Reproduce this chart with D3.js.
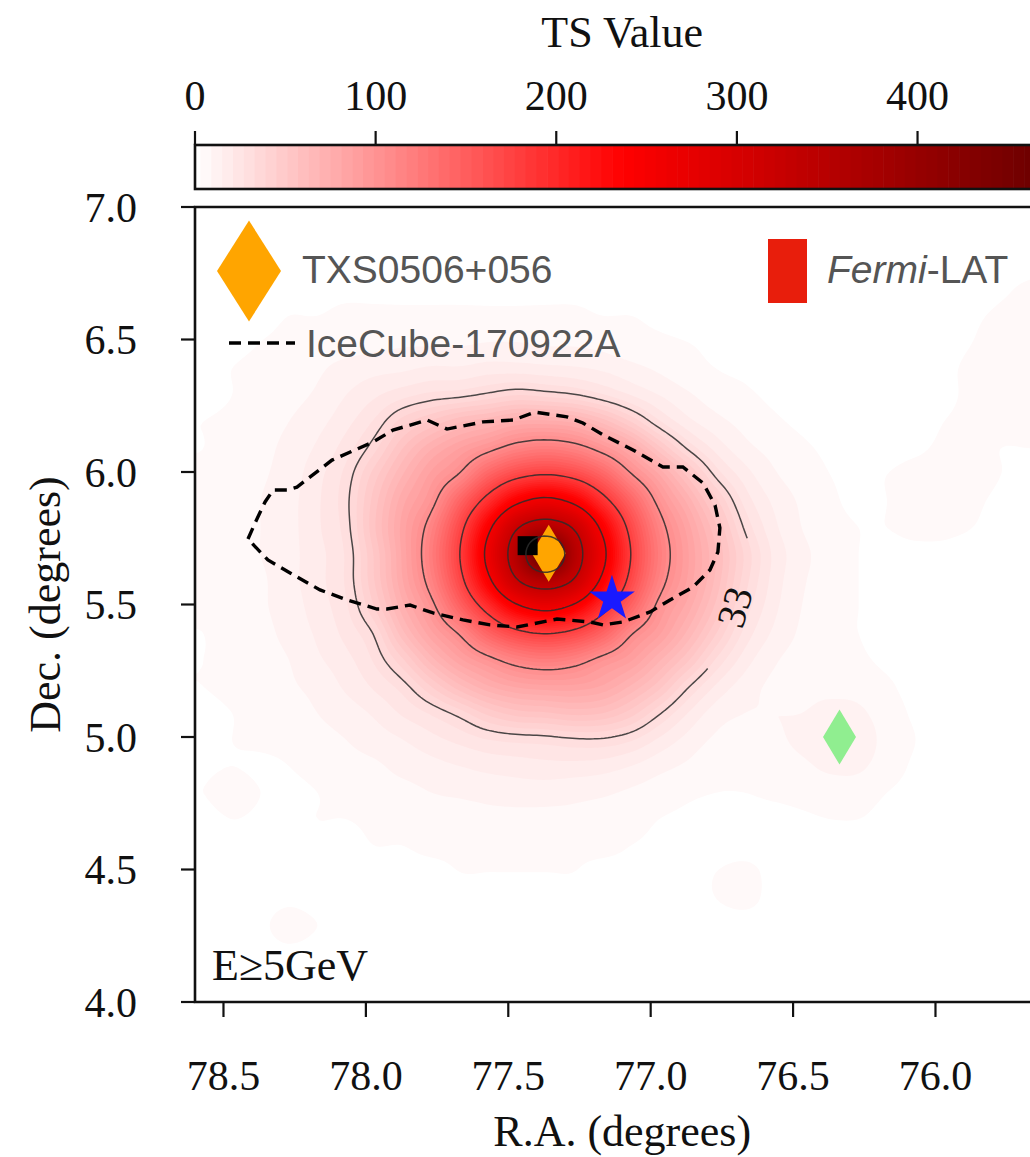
<!DOCTYPE html>
<html><head><meta charset="utf-8">
<script src="https://cdn.jsdelivr.net/npm/d3@7"></script>
<style>body{margin:0;background:#fff;overflow:hidden}</style>
</head><body>
<svg id="chart" width="1030" height="1157" xmlns="http://www.w3.org/2000/svg"></svg>
<script>
// ================= DATA =================
// TS map grid nodes (R.A. columns, Dec. rows, degrees)
const raNodes  = [78.57,78.47,78.37,78.27,78.17,78.07,77.97,77.87,77.77,77.67,77.57,77.47,77.37,77.27,77.17,77.07,76.97,76.87,76.77,76.67,76.57,76.47,76.37,76.27,76.17,76.07,75.97,75.87,75.77,75.67,75.57];
const decNodes = [6.99,6.89,6.79,6.69,6.59,6.49,6.39,6.29,6.19,6.09,5.99,5.89,5.79,5.69,5.59,5.49,5.39,5.29,5.19,5.09,4.99,4.89,4.79,4.69,4.59,4.49,4.39,4.29,4.19,4.09,3.99];
// TS values, one row per Dec node (top = 6.99), one column per R.A. node
const tsGrid = [
[0,0,0,0,0,0,0,0,0,0,0,0,0,0,0,0,0,0,0,0,0,0,0,0,0,0,0,0,0,0,0],
[0,0,0,0,0,0,1,1,1,1,1,1,1,0,0,0,0,0,0,0,0,0,0,0,0,0,0,0,0,0,0],
[0,0,0,1,1,1,1,1,1,1,1,1,1,1,1,1,0,0,0,0,0,0,0,0,0,0,0,0,0,1,2],
[0,1,1,2,2,2,2,2,2,2,2,2,2,2,2,1,1,1,0,0,0,0,0,0,0,0,0,0,2,4,4],
[1,2,2,3,3,4,4,4,4,4,4,4,4,4,3,3,2,1,1,1,0,0,0,0,0,0,0,2,4,5,5],
[1,2,3,4,6,6,7,8,8,8,9,9,8,8,7,5,4,3,2,1,1,0,0,0,0,0,1,3,5,6,6],
[2,3,4,5,8,11,13,14,16,16,18,18,17,16,14,11,8,5,3,2,1,1,1,0,0,1,2,4,5,6,6],
[2,3,5,7,10,15,20,25,29,31,35,39,37,34,28,21,15,10,6,4,2,1,1,1,0,1,2,4,5,5,5],
[3,4,6,9,13,19,28,42,52,62,68,76,77,73,61,45,28,17,11,7,4,2,1,1,0,1,3,4,4,4,4],
[3,5,7,11,16,24,37,57,74,87,100,115,121,115,98,78,53,32,19,11,7,4,2,1,1,2,4,4,3,3,3],
[4,5,8,12,19,29,48,69,89,108,144,170,180,170,144,108,81,55,31,18,10,6,3,2,3,5,6,5,3,2,2],
[4,6,9,13,20,31,54,79,100,144,194,244,265,244,194,144,100,73,47,25,14,8,4,2,3,5,6,4,2,1,1],
[4,6,9,13,20,30,56,84,115,170,244,322,357,322,244,170,115,84,58,32,17,9,5,3,3,4,4,3,1,0,0],
[4,6,9,13,19,28,52,83,121,180,265,357,473,357,265,180,121,88,63,38,20,11,6,3,2,2,2,1,0,0,0],
[4,6,8,13,19,28,51,81,115,170,244,322,357,322,244,170,115,86,61,36,19,10,6,3,2,1,1,0,0,0,0],
[4,5,8,12,18,26,45,73,100,144,194,244,265,244,194,144,100,78,55,31,17,9,5,3,2,1,1,0,0,0,0],
[3,5,7,11,16,23,34,61,85,108,144,170,180,170,144,108,88,67,45,25,14,8,5,3,2,1,1,0,0,0,0],
[3,4,6,9,14,19,28,44,66,85,100,115,121,115,100,88,70,52,32,18,10,7,6,4,2,1,0,0,0,0,0],
[3,4,5,8,11,16,22,30,45,61,74,82,85,85,80,68,53,34,20,12,8,8,8,7,4,1,0,0,0,0,0],
[2,3,4,6,9,12,16,22,28,36,47,54,56,59,57,48,34,21,12,9,9,9,10,10,6,2,0,0,0,0,0],
[2,3,4,5,7,9,12,15,19,23,27,29,30,32,32,28,20,13,8,7,8,10,11,12,7,3,0,0,0,0,0],
[2,3,2,3,5,7,8,11,13,15,17,18,19,19,18,15,11,8,5,5,6,8,10,10,6,2,0,0,0,0,0],
[3,6,3,2,3,5,6,7,9,10,11,12,12,11,10,8,6,4,3,3,4,5,6,6,3,1,0,0,0,0,0],
[1,3,2,2,3,3,4,5,6,6,7,7,7,7,6,5,3,2,1,1,1,2,3,3,1,0,0,0,0,0,0],
[1,1,1,1,2,2,3,3,4,4,4,5,5,4,4,3,2,1,0,0,0,0,0,0,0,0,0,0,0,0,0],
[1,1,1,1,1,2,2,2,2,3,3,3,3,3,2,2,1,1,3,5,1,0,0,0,0,0,0,0,0,0,0],
[0,1,1,2,1,1,1,1,2,2,2,2,2,2,1,1,1,1,3,5,1,0,0,0,0,0,0,0,0,0,0],
[0,1,2,5,3,1,1,1,1,1,1,1,1,1,1,0,0,0,0,0,0,0,0,0,0,0,0,0,0,0,0],
[0,0,1,2,1,0,0,0,0,0,0,0,0,0,0,0,0,0,0,0,0,0,0,0,0,0,0,0,0,0,0],
[0,0,0,0,0,0,0,0,0,0,0,0,0,0,0,0,0,0,0,0,0,0,0,0,0,0,0,0,0,0,0],
[0,0,0,0,0,0,0,0,0,0,0,0,0,0,0,0,0,0,0,0,0,0,0,0,0,0,0,0,0,0,0]
];
const tsMax = 473;                                   // colour bar top
const contourLevels = [33, 106, 180, 253, 326, 400]; // TS contour lines
const labelledLevel = "33";

// IceCube-170922A 90% region (dashed), vertices in degrees
const iceRA  = [78.414,78.389,78.354,78.326,78.277,78.242,78.119,77.975,77.905,77.785,77.715,77.589,77.483,77.406,77.294,77.238,77.167,77.062,76.957,76.887,76.816,76.774,76.757,76.764,76.792,76.851,76.932,77.002,77.097,77.167,77.213,77.329,77.469,77.564,77.659,77.764,77.845,77.926,77.961,78.066,78.161,78.266,78.344];
const iceDec = [5.747,5.808,5.887,5.932,5.932,5.943,6.045,6.113,6.158,6.196,6.162,6.189,6.196,6.226,6.208,6.185,6.140,6.083,6.019,6.019,5.958,5.875,5.789,5.698,5.630,5.566,5.517,5.472,5.434,5.423,5.434,5.445,5.415,5.423,5.442,5.468,5.498,5.483,5.483,5.517,5.555,5.619,5.668];

// point markers
const markerNames = ["TXS0506+056", "Fermi-LAT best fit", "star", "green source"];
const markerRA    = [77.358, 77.432, 77.136, 76.337];
const markerDec   = [5.693, 5.722, 5.521, 5.000];

// axes
const xTicks  = [78.5, 78.0, 77.5, 77.0, 76.5, 76.0];
const yTicks  = [4.0, 4.5, 5.0, 5.5, 6.0, 6.5, 7.0];
const cbTicks = [0, 100, 200, 300, 400];
const raRange  = [78.6, 75.6];
const decRange = [7.0, 4.0];

// ================= DRAWING =================
const serif = "'Liberation Serif','Times New Roman',serif";
const sans  = "'Liberation Sans',Arial,Helvetica,sans-serif";
const svg = d3.select("#chart");
const L = 195, T = 207, R = 1049.4, B = 1002;
const x = d3.scaleLinear().domain(raRange).range([L, R]);
const y = d3.scaleLinear().domain(decRange).range([T, B]);
const color = d3.scaleLinear().domain([0, tsMax / 2, tsMax]).range(["#ffffff", "#ff0000", "#680000"]).clamp(true);
const cbx = d3.scaleLinear().domain([0, tsMax]).range([L, R]);

// bicubic (Catmull-Rom) resampling of the TS grid
const nR = decNodes.length, nC = raNodes.length;
const dRA = raNodes[0] - raNodes[1], dDec = decNodes[0] - decNodes[1];
function cr(p0, p1, p2, p3, t) {
  return 0.5 * (2 * p1 + (-p0 + p2) * t + (2 * p0 - 5 * p1 + 4 * p2 - p3) * t * t + (-p0 + 3 * p1 - 3 * p2 + p3) * t * t * t);
}
function g(i, j) { return tsGrid[Math.max(0, Math.min(nR - 1, i))][Math.max(0, Math.min(nC - 1, j))]; }
function sample(ra, dec) {
  const u = (raNodes[0] - ra) / dRA, v = (decNodes[0] - dec) / dDec;
  const j = Math.floor(u), i = Math.floor(v), tu = u - j, tv = v - i;
  const r = [];
  for (let k = -1; k <= 2; k++) r.push(cr(g(i + k, j - 1), g(i + k, j), g(i + k, j + 1), g(i + k, j + 2), tu));
  return Math.max(0, cr(r[0], r[1], r[2], r[3], tv));
}
const N = 241;
const raAt = d3.scaleLinear().domain([0, N - 1]).range(raRange);
const decAt = d3.scaleLinear().domain([0, N - 1]).range(decRange);
const values = new Float64Array(N * N);
for (let r = 0; r < N; r++) for (let c = 0; c < N; c++) values[r * N + c] = sample(raAt(c), decAt(r));

const gx = d3.scaleLinear().domain([0.5, N - 0.5]).range([x(raRange[0]), x(raRange[1])]);
const gy = d3.scaleLinear().domain([0.5, N - 0.5]).range([y(decRange[0]), y(decRange[1])]);
const gRA = d3.scaleLinear().domain([0.5, N - 0.5]).range(raRange);
const gDec = d3.scaleLinear().domain([0.5, N - 0.5]).range(decRange);
const path = d3.geoPath(d3.geoTransform({ point(px, py) { this.stream.point(gx(px), gy(py)); } }));

const defs = svg.append("defs");
defs.append("clipPath").attr("id", "plotclip").append("rect")
  .attr("x", L).attr("y", T).attr("width", R - L).attr("height", B - T);

const plot = svg.append("g").attr("clip-path", "url(#plotclip)");

// filled TS map (banded like contourf)
const step = 6;
const fillThr = d3.range(3, tsMax, step);
const bands = d3.contours().size([N, N]).thresholds(fillThr)(values);
plot.append("g").selectAll("path").data(bands).join("path")
  .attr("d", path).attr("fill", d => color(d.value + step / 2)).attr("stroke", "none");

// markers drawn below the contour lines
function diamond(w, h) { return `M0,${-h / 2}L${w / 2},0L0,${h / 2}L${-w / 2},0Z`; }
plot.append("path").attr("d", diamond(34, 57))
  .attr("transform", `translate(${x(markerRA[0])},${y(markerDec[0])})`).attr("fill", "#ffa500");
plot.append("rect").attr("x", x(markerRA[1]) - 10).attr("y", y(markerDec[1]) - 9.5)
  .attr("width", 20).attr("height", 19).attr("fill", "#000");

// contour lines
const lineGen = d3.line().x(p => p[0]).y(p => p[1]);
const cl = plot.append("g").attr("fill", "none").attr("stroke", "#2b2b2b").attr("stroke-width", 1.5).attr("stroke-opacity", 0.85);
const inner = d3.contours().size([N, N]).thresholds(contourLevels.slice(1))(values);
cl.selectAll("path.inner").data(inner).join("path").attr("class", "inner").attr("d", path);

// outer (labelled) level: open the ring where the label sits
let pk = [0, 0], pv = -1;
tsGrid.forEach((row, i) => row.forEach((v, j) => { if (v > pv) { pv = v; pk = [i, j]; } }));
const peakRA = raNodes[pk[1]], peakDec = decNodes[pk[0]];
const gapFrom = -37, gapTo = 4.5;   // position angle range (deg) occupied by the label
const outer = d3.contours().size([N, N]).thresholds([contourLevels[0]])(values)[0];
const segs = [];
outer.coordinates.forEach(poly => poly.forEach(ring => {
  const pts = ring.map(([cx, cy]) => {
    const ra = gRA(cx), dec = gDec(cy);
    return { p: [x(ra), y(dec)], a: Math.atan2(dec - peakDec, peakRA - ra) * 180 / Math.PI };
  });
  const inGap = q => q.a > gapFrom && q.a < gapTo;
  const s = pts.findIndex(inGap);
  if (s < 0) { segs.push(pts.map(q => q.p)); return; }
  let cur = [];
  for (let k = 0; k < pts.length; k++) {
    const q = pts[(s + k) % pts.length];
    if (inGap(q)) { if (cur.length > 1) segs.push(cur); cur = []; } else cur.push(q.p);
  }
  if (cur.length > 1) segs.push(cur);
}));
cl.selectAll("path.outer").data(segs).join("path").attr("class", "outer").attr("d", lineGen);

// contour label
const labA = (gapFrom + gapTo) / 2 * Math.PI / 180, labR = 0.715;
const labRA = peakRA - labR * Math.cos(labA), labDec = peakDec + labR * Math.sin(labA);
plot.append("text").text(labelledLevel)
  .attr("transform", `translate(${x(labRA) - 6},${y(labDec)}) rotate(-74)`)
  .attr("text-anchor", "middle").attr("dominant-baseline", "central")
  .attr("font-family", serif).attr("font-size", 40).attr("fill", "#111");

// IceCube region
plot.append("path")
  .attr("d", d3.line().x((d, i) => x(iceRA[i])).y((d, i) => y(iceDec[i])).curve(d3.curveLinearClosed)(iceRA))
  .attr("fill", "none").attr("stroke", "#000").attr("stroke-width", 3.4).attr("stroke-dasharray", "12 7");

// star and green diamond
plot.append("path").attr("d", d3.symbol(d3.symbolStar, 650)())
  .attr("transform", `translate(${x(markerRA[2])},${y(markerDec[2])})`).attr("fill", "#1a1aff");
plot.append("path").attr("d", diamond(33, 55))
  .attr("transform", `translate(${x(markerRA[3])},${y(markerDec[3])})`).attr("fill", "#90ee90");

// frame
const ax = svg.append("g").attr("stroke", "#111").attr("fill", "none");
ax.append("path").attr("d", `M${R},${T}H${L}V${B}H${R}`).attr("stroke-width", 2.6);
xTicks.forEach(v => ax.append("line").attr("x1", x(v)).attr("x2", x(v)).attr("y1", B).attr("y2", B + 15).attr("stroke-width", 2.2));
yTicks.forEach(v => ax.append("line").attr("x1", L).attr("x2", L - 14).attr("y1", y(v)).attr("y2", y(v)).attr("stroke-width", 2.2));

const fmt = d3.format(".1f");
svg.append("g").selectAll("text").data(xTicks).join("text")
  .attr("x", d => x(d)).attr("y", 1090).attr("text-anchor", "middle")
  .attr("font-family", serif).attr("font-size", 42).attr("fill", "#111").text(fmt);
svg.append("g").selectAll("text").data(yTicks).join("text")
  .attr("x", 137).attr("y", d => y(d) + 14.5).attr("text-anchor", "end")
  .attr("font-family", serif).attr("font-size", 42).attr("fill", "#111").text(fmt);

svg.append("text").attr("x", (L + R) / 2).attr("y", 1146).attr("text-anchor", "middle")
  .attr("font-family", serif).attr("font-size", 44).attr("fill", "#111").text("R.A. (degrees)");
svg.append("text").attr("transform", `translate(60,${(T + B) / 2}) rotate(-90)`).attr("text-anchor", "middle")
  .attr("font-family", serif).attr("font-size", 44).attr("fill", "#111").text("Dec. (degrees)");
svg.append("text").attr("x", 212).attr("y", 980)
  .attr("font-family", serif).attr("font-size", 44).attr("fill", "#111").text("E≥5GeV");

// colour bar
const CT = 145, CB = 189;
const cbBands = [[0, fillThr[0]]].concat(fillThr.map((t, i) => [t, i + 1 < fillThr.length ? fillThr[i + 1] : tsMax]));
svg.append("g").selectAll("rect").data(cbBands).join("rect")
  .attr("x", d => cbx(d[0])).attr("width", d => cbx(d[1]) - cbx(d[0]) + 0.6)
  .attr("y", CT).attr("height", CB - CT)
  .attr("fill", (d, i) => i === 0 ? "#ffffff" : color(d[0] + step / 2));
svg.append("rect").attr("x", L).attr("y", CT).attr("width", R - L).attr("height", CB - CT)
  .attr("fill", "none").attr("stroke", "#111").attr("stroke-width", 2.6);
cbTicks.forEach(v => svg.append("line").attr("x1", cbx(v)).attr("x2", cbx(v)).attr("y1", CT).attr("y2", CT - 14)
  .attr("stroke", "#111").attr("stroke-width", 2.2));
svg.append("g").selectAll("text").data(cbTicks).join("text")
  .attr("x", d => cbx(d)).attr("y", 110).attr("text-anchor", "middle")
  .attr("font-family", serif).attr("font-size", 42).attr("fill", "#111").text(d => d);
svg.append("text").attr("x", (L + R) / 2).attr("y", 47).attr("text-anchor", "middle")
  .attr("font-family", serif).attr("font-size", 44).attr("fill", "#111").text("TS Value");

// legend
const lg = svg.append("g").attr("font-family", sans).attr("font-size", 39).attr("fill", "#555");
lg.append("path").attr("d", diamond(64, 101)).attr("transform", "translate(249,271)").attr("fill", "#ffa500");
lg.append("text").attr("x", 302).attr("y", 283).text(markerNames[0]);
lg.append("line").attr("x1", 229).attr("x2", 295).attr("y1", 343).attr("y2", 343)
  .attr("stroke", "#000").attr("stroke-width", 3.4).attr("stroke-dasharray", "12 7");
lg.append("text").attr("x", 306).attr("y", 357).text("IceCube-170922A");
lg.append("rect").attr("x", 768).attr("y", 239).attr("width", 39).attr("height", 64).attr("fill", "#e81e0c");
const ft = lg.append("text").attr("x", 827).attr("y", 283);
ft.append("tspan").attr("font-style", "italic").text("Fermi");
ft.append("tspan").text("-LAT");
</script>
</body></html>
